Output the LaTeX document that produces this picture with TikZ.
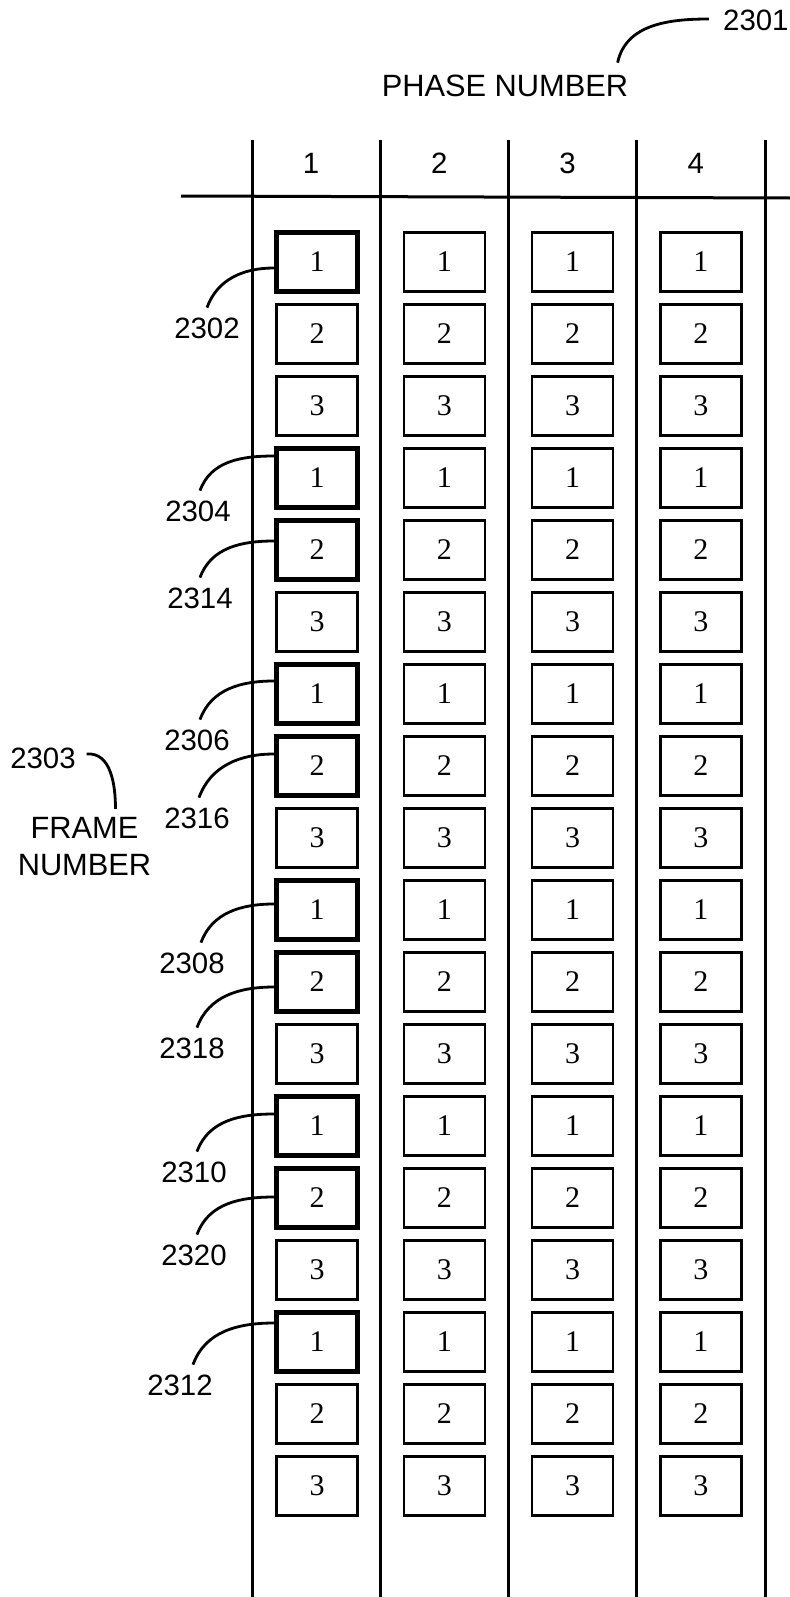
\documentclass[tikz,border=0pt]{standalone}
\usepackage{fontspec}
\setmainfont{Liberation Serif}
\setsansfont{Liberation Sans}
\usetikzlibrary{calc}

\begin{document}
\begin{tikzpicture}[x=0.5pt,y=-0.5pt,
    slot/.style={draw,line width=1.25pt,minimum width=40.5pt,minimum height=29.5pt,inner sep=0pt,font=\fontsize{15}{16}\selectfont},
    slotbold/.style={slot,line width=2.7pt},
    tag/.style={font=\sffamily\fontsize{14.7}{17}\selectfont,inner sep=1pt,outer sep=4pt},
    head/.style={font=\sffamily\fontsize{14.7}{17}\selectfont,inner sep=0pt},
    title/.style={font=\sffamily\fontsize{15.4}{18.5}\selectfont,inner sep=0pt,align=center},
    rule/.style={line width=1.5pt},
    lead/.style={line width=1.4pt}]
  \useasboundingbox (0,0) rectangle (790,1597);

  \foreach \i in {0,...,4}
    \draw[rule] ({252+128.25*\i},140) -- ({252+128.25*\i},1600);
  \draw[rule] (181,196) -- (792,198);

  \node[title] (phase) at (505,86) {PHASE NUMBER};
  \node[head,anchor=east] (l2301) at (789,20) {2301};
  \draw[lead] ($(phase.north east)+(-11,-12)$) to[out=78,in=180] ($(l2301.west)+(-14,-1)$);

  \foreach \c in {1,...,4}
    \node[head] (ph\c) at ({252+128.25*(\c-0.5)-5},163) {\c};

  \foreach \r/\st in {1/slotbold,2/slot,3/slot,4/slotbold,5/slotbold,6/slot,
      7/slotbold,8/slotbold,9/slot,10/slotbold,11/slotbold,12/slot,
      13/slotbold,14/slotbold,15/slot,16/slotbold,17/slot,18/slot} {
    \pgfmathtruncatemacro\v{mod(\r-1,3)+1}
    \node[\st] (b\r-1) at (317,{262+72*(\r-1)}) {\v};
    \foreach \c in {2,3,4}
      \node[slot] (b\r-\c) at ({252+128.25*(\c-0.5)},{262+72*(\r-1)}) {\v};
  }

  \foreach \n/\r/\dy/\tx/\ty/\ex in {2302/1/6/207/328/0,2304/4/-22/198/511/2,
      2314/5/-9/200/598/0,2306/7/-13/197/740/3,2316/8/-12/197/818/2,
      2308/10/-6/192/963/9,2318/11/5/192/1048/5,2310/13/-12/194/1172/3,
      2320/14/-1/194/1255/3,2312/16/-19/180/1385/13} {
    \node[tag] (l\n) at (\tx,\ty) {\n};
    \draw[lead] ($(b\r-1.west)+(0,\dy)$) to[out=180,in=70] ($(l\n.north)+(\ex,0)$);
  }

  \node[tag] (l2303) at (43,758) {2303};
  \node[title] (frame) at (84.5,846.5) {FRAME\\NUMBER};
  \draw[lead] ($(l2303.east)+(1,-4)$) to[out=5,in=90] ($(frame.north)+(31,-8)$);
\end{tikzpicture}
\end{document}
